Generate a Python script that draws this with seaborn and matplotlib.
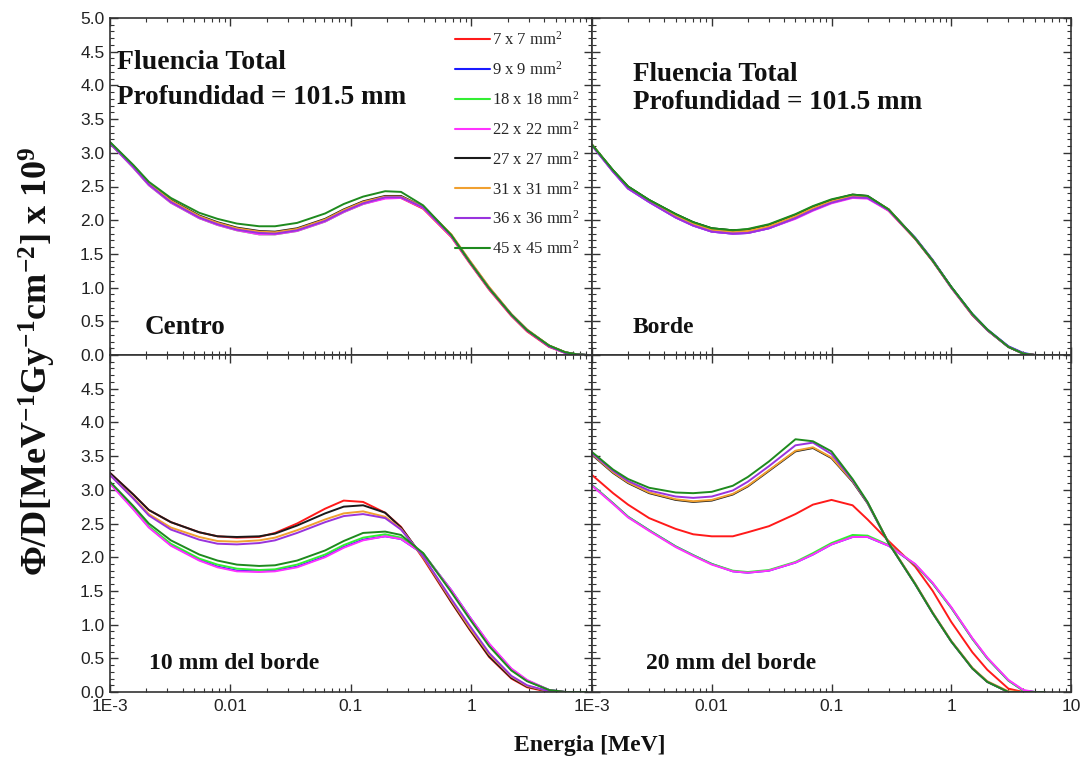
import numpy as np
import pandas as pd
import matplotlib
matplotlib.use("Agg")
import matplotlib.pyplot as plt
import seaborn as sns
from matplotlib.ticker import FixedLocator, MultipleLocator, FuncFormatter, LogLocator, NullFormatter

# Energy grids (MeV): one for the central / 10 mm spectra, one for the edge / 20 mm spectra
energy_left = [0.001, 0.00156, 0.0021, 0.0032, 0.0055, 0.0078, 0.0113, 0.0173, 0.0234, 0.0357, 0.061,
               0.087, 0.126, 0.192, 0.26, 0.397, 0.68, 0.96, 1.40, 2.14, 2.89, 4.4, 6.0, 7.5, 9.1]
energy_right = [0.001, 0.0015, 0.002, 0.003, 0.005, 0.007, 0.01, 0.015, 0.02, 0.03, 0.05,
                0.07, 0.1, 0.15, 0.2, 0.3, 0.5, 0.7, 1.0, 1.5, 2.0, 3.0, 4.0, 5.0, 6.0]

field_sizes = ["7 x 7", "9 x 9", "18 x 18", "22 x 22", "27 x 27", "31 x 31", "36 x 36", "45 x 45"]
line_colors = ["#ff1a1a", "#1a1aff", "#33ee33", "#ff33ff", "#1a1a1a", "#f0a030", "#9933dd", "#1e8a1e"]

# Fluence per unit dose, Phi/D [MeV^-1 Gy^-1 cm^-2] x 1e9
centro = {
    "7 x 7":   [3.14, 2.79, 2.53, 2.27, 2.04, 1.94, 1.86, 1.81, 1.80, 1.85, 1.99, 2.13, 2.25, 2.33, 2.33, 2.17, 1.75, 1.37, 0.97, 0.58, 0.35, 0.12, 0.03, 0.00, 0.00],
    "9 x 9":   [3.15, 2.80, 2.54, 2.28, 2.05, 1.95, 1.87, 1.82, 1.81, 1.86, 2.00, 2.14, 2.26, 2.34, 2.35, 2.19, 1.77, 1.39, 0.99, 0.60, 0.37, 0.13, 0.04, 0.01, 0.00],
    "18 x 18": [3.14, 2.78, 2.52, 2.26, 2.03, 1.93, 1.85, 1.79, 1.79, 1.84, 1.98, 2.12, 2.24, 2.33, 2.34, 2.19, 1.77, 1.39, 0.99, 0.60, 0.37, 0.14, 0.04, 0.01, 0.00],
    "22 x 22": [3.14, 2.78, 2.52, 2.26, 2.03, 1.93, 1.85, 1.79, 1.79, 1.84, 1.98, 2.12, 2.24, 2.32, 2.33, 2.18, 1.76, 1.38, 0.98, 0.59, 0.36, 0.13, 0.03, 0.00, 0.00],
    "27 x 27": [3.15, 2.81, 2.55, 2.30, 2.07, 1.97, 1.89, 1.84, 1.83, 1.88, 2.02, 2.16, 2.28, 2.36, 2.36, 2.20, 1.78, 1.40, 1.00, 0.60, 0.37, 0.14, 0.04, 0.01, 0.00],
    "31 x 31": [3.15, 2.81, 2.55, 2.29, 2.06, 1.96, 1.88, 1.83, 1.82, 1.87, 2.01, 2.15, 2.27, 2.35, 2.35, 2.20, 1.79, 1.41, 1.01, 0.61, 0.38, 0.14, 0.04, 0.01, 0.00],
    "36 x 36": [3.14, 2.79, 2.53, 2.27, 2.04, 1.94, 1.86, 1.81, 1.80, 1.85, 1.99, 2.13, 2.25, 2.34, 2.34, 2.19, 1.77, 1.39, 0.99, 0.60, 0.37, 0.13, 0.03, 0.01, 0.00],
    "45 x 45": [3.16, 2.82, 2.57, 2.33, 2.11, 2.02, 1.95, 1.91, 1.91, 1.96, 2.10, 2.24, 2.35, 2.43, 2.42, 2.22, 1.78, 1.39, 0.99, 0.60, 0.37, 0.14, 0.04, 0.01, 0.00],
}

borde = {
    "7 x 7":   [3.12, 2.73, 2.49, 2.29, 2.07, 1.95, 1.86, 1.83, 1.84, 1.91, 2.06, 2.18, 2.28, 2.36, 2.34, 2.14, 1.72, 1.39, 1.00, 0.59, 0.37, 0.12, 0.02, 0.00, 0.00],
    "9 x 9":   [3.11, 2.72, 2.47, 2.27, 2.04, 1.92, 1.83, 1.80, 1.81, 1.88, 2.03, 2.15, 2.26, 2.34, 2.33, 2.15, 1.74, 1.41, 1.01, 0.61, 0.38, 0.13, 0.03, 0.00, 0.00],
    "18 x 18": [3.12, 2.74, 2.50, 2.30, 2.09, 1.97, 1.88, 1.85, 1.86, 1.93, 2.08, 2.20, 2.30, 2.37, 2.35, 2.16, 1.73, 1.40, 1.01, 0.60, 0.37, 0.12, 0.02, 0.00, 0.00],
    "22 x 22": [3.11, 2.72, 2.47, 2.27, 2.04, 1.92, 1.83, 1.80, 1.81, 1.88, 2.02, 2.14, 2.25, 2.33, 2.32, 2.14, 1.73, 1.40, 1.00, 0.60, 0.37, 0.12, 0.02, 0.00, 0.00],
    "27 x 27": [3.12, 2.74, 2.50, 2.30, 2.09, 1.97, 1.88, 1.85, 1.86, 1.93, 2.08, 2.20, 2.30, 2.38, 2.36, 2.16, 1.73, 1.40, 1.01, 0.60, 0.37, 0.12, 0.02, 0.00, 0.00],
    "31 x 31": [3.12, 2.73, 2.49, 2.29, 2.07, 1.95, 1.86, 1.83, 1.84, 1.91, 2.06, 2.18, 2.28, 2.36, 2.35, 2.16, 1.73, 1.40, 1.00, 0.60, 0.37, 0.12, 0.02, 0.00, 0.00],
    "36 x 36": [3.11, 2.72, 2.47, 2.27, 2.04, 1.92, 1.83, 1.80, 1.81, 1.88, 2.03, 2.15, 2.26, 2.34, 2.33, 2.15, 1.73, 1.40, 1.00, 0.60, 0.37, 0.12, 0.02, 0.00, 0.00],
    "45 x 45": [3.12, 2.74, 2.50, 2.30, 2.09, 1.97, 1.88, 1.85, 1.87, 1.94, 2.09, 2.21, 2.31, 2.38, 2.36, 2.16, 1.73, 1.40, 1.01, 0.61, 0.38, 0.12, 0.02, 0.00, 0.00],
}

borde_10mm = {
    "7 x 7":   [3.25, 2.93, 2.70, 2.52, 2.37, 2.31, 2.29, 2.30, 2.36, 2.50, 2.72, 2.84, 2.82, 2.66, 2.45, 1.98, 1.33, 0.93, 0.52, 0.20, 0.07, 0.00, 0.00, 0.00, 0.00],
    "9 x 9":   [3.10, 2.72, 2.45, 2.18, 1.96, 1.86, 1.80, 1.79, 1.80, 1.86, 2.01, 2.15, 2.26, 2.31, 2.27, 2.05, 1.51, 1.12, 0.71, 0.34, 0.17, 0.03, 0.00, 0.00, 0.00],
    "18 x 18": [3.10, 2.73, 2.46, 2.20, 1.98, 1.89, 1.83, 1.81, 1.82, 1.89, 2.04, 2.18, 2.29, 2.34, 2.29, 2.06, 1.50, 1.11, 0.70, 0.33, 0.17, 0.03, 0.00, 0.00, 0.00],
    "22 x 22": [3.09, 2.71, 2.44, 2.17, 1.95, 1.85, 1.79, 1.78, 1.79, 1.85, 2.00, 2.14, 2.25, 2.31, 2.27, 2.05, 1.51, 1.12, 0.72, 0.35, 0.18, 0.03, 0.00, 0.00, 0.00],
    "27 x 27": [3.25, 2.93, 2.70, 2.52, 2.37, 2.31, 2.30, 2.31, 2.35, 2.47, 2.65, 2.75, 2.77, 2.66, 2.44, 2.00, 1.34, 0.94, 0.53, 0.21, 0.08, 0.01, 0.00, 0.00, 0.00],
    "31 x 31": [3.22, 2.88, 2.64, 2.44, 2.30, 2.24, 2.23, 2.25, 2.29, 2.40, 2.56, 2.65, 2.68, 2.60, 2.42, 2.00, 1.36, 0.96, 0.56, 0.23, 0.09, 0.01, 0.00, 0.00, 0.00],
    "36 x 36": [3.22, 2.87, 2.62, 2.41, 2.26, 2.20, 2.19, 2.21, 2.25, 2.36, 2.52, 2.61, 2.64, 2.58, 2.41, 2.01, 1.38, 0.99, 0.58, 0.24, 0.10, 0.01, 0.00, 0.00, 0.00],
    "45 x 45": [3.12, 2.76, 2.50, 2.25, 2.04, 1.95, 1.89, 1.87, 1.88, 1.95, 2.10, 2.24, 2.36, 2.38, 2.33, 2.06, 1.48, 1.09, 0.68, 0.32, 0.16, 0.03, 0.00, 0.00, 0.00],
}

borde_20mm = {
    "7 x 7":   [3.22, 2.95, 2.78, 2.58, 2.42, 2.34, 2.31, 2.31, 2.37, 2.46, 2.64, 2.78, 2.85, 2.77, 2.56, 2.24, 1.86, 1.50, 1.04, 0.59, 0.33, 0.05, 0.00, 0.00, 0.00],
    "9 x 9":   [3.07, 2.80, 2.60, 2.40, 2.16, 2.03, 1.90, 1.79, 1.77, 1.80, 1.92, 2.04, 2.19, 2.30, 2.30, 2.17, 1.89, 1.61, 1.25, 0.79, 0.50, 0.17, 0.02, 0.00, 0.00],
    "18 x 18": [3.07, 2.80, 2.60, 2.40, 2.16, 2.03, 1.90, 1.80, 1.78, 1.81, 1.93, 2.06, 2.21, 2.33, 2.32, 2.18, 1.89, 1.61, 1.25, 0.79, 0.50, 0.17, 0.02, 0.00, 0.00],
    "22 x 22": [3.06, 2.79, 2.59, 2.39, 2.15, 2.02, 1.89, 1.79, 1.77, 1.80, 1.92, 2.04, 2.19, 2.30, 2.30, 2.17, 1.90, 1.62, 1.26, 0.80, 0.51, 0.18, 0.03, 0.00, 0.00],
    "27 x 27": [3.52, 3.25, 3.10, 2.95, 2.85, 2.82, 2.84, 2.93, 3.05, 3.28, 3.57, 3.62, 3.47, 3.12, 2.80, 2.21, 1.60, 1.17, 0.75, 0.35, 0.15, 0.00, 0.00, 0.00, 0.00],
    "31 x 31": [3.53, 3.26, 3.11, 2.96, 2.86, 2.83, 2.85, 2.94, 3.06, 3.29, 3.58, 3.63, 3.48, 3.13, 2.81, 2.22, 1.61, 1.18, 0.76, 0.36, 0.16, 0.01, 0.00, 0.00, 0.00],
    "36 x 36": [3.54, 3.28, 3.13, 2.99, 2.90, 2.88, 2.90, 2.99, 3.12, 3.35, 3.66, 3.70, 3.53, 3.14, 2.81, 2.21, 1.60, 1.17, 0.75, 0.35, 0.15, 0.00, 0.00, 0.00, 0.00],
    "45 x 45": [3.56, 3.30, 3.16, 3.03, 2.96, 2.95, 2.97, 3.06, 3.19, 3.42, 3.75, 3.72, 3.57, 3.16, 2.82, 2.21, 1.60, 1.17, 0.75, 0.35, 0.15, 0.00, 0.00, 0.00, 0.00],
}

panel_titles = ["Centro", "Borde", "10 mm del borde", "20 mm del borde"]
header_lines = ["Fluencia Total", "Profundidad = 101.5 mm"]
x_tick_values = [1e-3, 1e-2, 1e-1, 1, 10]
x_tick_text = ["1E-3", "0.01", "0.1", "1", "10"]

sns.set_style("ticks")
plt.rcParams.update({
    "font.family": ["Liberation Sans", "DejaVu Sans"],
    "mathtext.fontset": "custom",
    "mathtext.rm": "Liberation Serif",
    "mathtext.it": "Liberation Serif:italic",
    "mathtext.bf": "Liberation Serif:bold",
    "axes.linewidth": 1.2,
    "axes.edgecolor": "#333333",
})

serif = ["Liberation Serif", "DejaVu Serif"]
labels = [f"{s} mm$^2$" for s in field_sizes]
palette = dict(zip(labels, line_colors))

fig = plt.figure(figsize=(10.86, 7.65), dpi=100)
W, H = 1086, 765
x_left, x_mid, x_right = 110, 592, 1071
y_top, y_mid, y_bot = 18, 355, 692
ax_rects = [
    (x_left, y_top, x_mid - x_left, y_mid - y_top),
    (x_mid, y_top, x_right - x_mid, y_mid - y_top),
    (x_left, y_mid, x_mid - x_left, y_bot - y_mid),
    (x_mid, y_mid, x_right - x_mid, y_bot - y_mid),
]
datasets = [centro, borde, borde_10mm, borde_20mm]
grids = [energy_left, energy_right, energy_left, energy_right]

for i, (rect, data, grid) in enumerate(zip(ax_rects, datasets, grids)):
    px, py, pw, ph = rect
    ax = fig.add_axes([px / W, 1 - (py + ph) / H, pw / W, ph / H])
    rows = []
    for size, lab in zip(field_sizes, labels):
        for e, v in zip(grid, data[size]):
            rows.append((e, v, lab))
    df = pd.DataFrame(rows, columns=["E", "phi", "campo"])
    sns.lineplot(data=df, x="E", y="phi", hue="campo", hue_order=labels,
                 palette=palette, estimator=None, sort=False, lw=1.4,
                 ax=ax, legend=(i == 0))
    ax.set_xscale("log")
    ax.set_xlim(1e-3, 10)
    ax.set_ylim(0, 5.0)
    ax.set_xlabel("")
    ax.set_ylabel("")

    ax.xaxis.set_major_locator(FixedLocator(x_tick_values))
    ax.xaxis.set_minor_locator(LogLocator(base=10, subs=np.arange(2, 10)))
    ax.xaxis.set_minor_formatter(NullFormatter())
    left_col = i in (0, 2)
    bottom_row = i in (2, 3)

    def xfmt(val, pos, left_col=left_col):
        for tv, tt in zip(x_tick_values, x_tick_text):
            if np.isclose(val, tv):
                if left_col and tt == "10":
                    return ""
                return tt
        return ""
    ax.xaxis.set_major_formatter(FuncFormatter(xfmt))

    ax.yaxis.set_major_locator(MultipleLocator(0.5))
    ax.yaxis.set_minor_locator(MultipleLocator(0.1))

    def yfmt(val, pos, top_row=(i in (0, 1))):
        if not top_row and val > 4.75:
            return ""
        return f"{val:.1f}"
    ax.yaxis.set_major_formatter(FuncFormatter(yfmt))

    ax.tick_params(which="both", direction="in", top=True, right=True,
                   colors="#333333", labelcolor="#222222", labelsize=12.5)
    ax.tick_params(which="major", length=6, width=1.0)
    ax.tick_params(which="minor", length=3, width=0.8)
    ax.tick_params(axis="x", labelbottom=bottom_row, pad=5)
    ax.tick_params(axis="y", labelleft=left_col, pad=4)
    for sp in ax.spines.values():
        sp.set_visible(True)

    # panel annotations
    title_pos = {0: (0.071, 0.083), 1: (0.084, 0.083), 2: (0.081, 0.086), 3: (0.113, 0.086)}
    title_size = {0: 19.5, 1: 17, 2: 17, 3: 17}
    tx, ty = title_pos[i]
    ax.text(tx, ty, panel_titles[i], transform=ax.transAxes, ha="left", va="center",
            fontsize=title_size[i], fontweight="bold", family=serif, color="#111111")
    if i == 0:
        ax.text(0.015, 0.869, header_lines[0], transform=ax.transAxes, ha="left", va="center",
                fontsize=20, fontweight="bold", family=serif, color="#111111")
        ax.text(0.015, 0.763, header_lines[1], transform=ax.transAxes, ha="left", va="center",
                fontsize=19.5, fontweight="bold", family=serif, color="#111111")
        handles, hl = ax.get_legend_handles_labels()
        for h in handles:
            h.set_linewidth(1.5)
        ax.legend(handles, hl, loc="upper left", bbox_to_anchor=(0.715, 0.962),
                  frameon=False, prop={"family": serif, "size": 12},
                  handlelength=2.1, handletextpad=0.15, labelspacing=0.72,
                  borderaxespad=0, borderpad=0)
    if i == 1:
        ax.text(0.086, 0.831, header_lines[0], transform=ax.transAxes, ha="left", va="center",
                fontsize=19.5, fontweight="bold", family=serif, color="#111111")
        ax.text(0.086, 0.749, header_lines[1], transform=ax.transAxes, ha="left", va="center",
                fontsize=19.5, fontweight="bold", family=serif, color="#111111")

fig.text(37 / W, 1 - 361 / H,
         r"Φ/D[MeV$^{\mathbf{-1}}$Gy$^{\mathbf{-1}}$cm$^{\mathbf{-2}}$] x 10$^{\mathbf{9}}$",
         rotation=90, ha="center", va="center", fontsize=26, fontweight="bold",
         family=serif, color="#111111")
fig.text(590 / W, 1 - 745 / H, "Energia [MeV]", ha="center", va="center",
         fontsize=17, fontweight="bold", family=serif, color="#111111")

fig.savefig("out.png", dpi=100, facecolor="white")
